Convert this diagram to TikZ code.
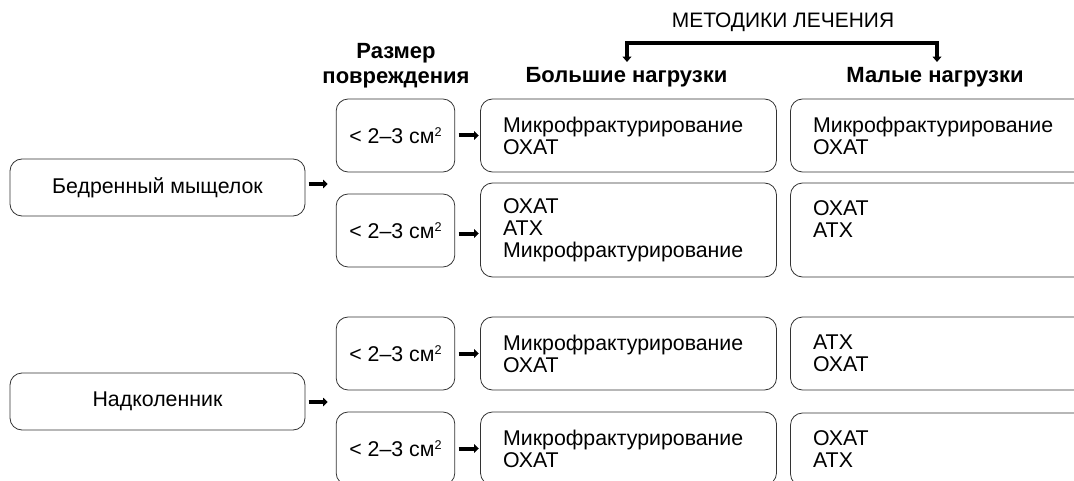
\documentclass[tikz,border=0pt]{standalone}
\usepackage{fontspec}
\setmainfont{Liberation Sans}
\usetikzlibrary{arrows.meta}

\newcommand{\sqsup}{\raisebox{5pt}{\fontsize{9.5}{9.5}\selectfont 2}}

\begin{document}
\begin{tikzpicture}[x=0.75pt,y=-0.75pt,
    box/.style={draw=black!80,line width=0.6pt,rounded corners=9pt,
        font=\fontsize{16}{16.5}\selectfont},
    sizebox/.style={box,minimum width=89pt,minimum height=54.75pt,inner sep=0pt},
    partbox/.style={box,minimum width=221.25pt,minimum height=42.75pt,inner sep=0pt},
    treatbox/.style={box,align=left,text width=188pt,inner xsep=17pt,inner ysep=0pt,
        minimum height=54.75pt},
    head/.style={font=\bfseries\fontsize{16.5}{19}\selectfont,align=center,inner sep=0pt},
    arr/.style={-{Triangle[length=3.5pt,width=6.5pt]},line width=3pt,shorten <=2.5pt,shorten >=1pt},
    brk/.style={{Triangle[length=4pt,width=6.5pt]}-{Triangle[length=4pt,width=6.5pt]},line width=2.6pt}]

    % 描画範囲
    \clip (0,0) rectangle (1074,481);

    % 見出し
    \node[font=\fontsize{15.7}{16.5}\selectfont] (methods) at (783,22) {МЕТОДИКИ ЛЕЧЕНИЯ};
    \node[head] (hsize) at (396,66) {Размер\\повреждения};
    \node[head] (hbig) at (626.5,77) {Большие нагрузки};
    \node[head] (hsmall) at (935,77) {Малые нагрузки};

    \coordinate (bA) at (627,62);
    \coordinate (bB) at (937,62);
    \coordinate (bTop) at (783,43);
    \draw[brk] (bA) |- (bTop) -| (bB);

    % 部位
    \node[partbox] (femur) at (157.5,187.5) {Бедренный мыщелок};
    \node[partbox] (patella) at (157.5,401.5) {Надколенник};

    % 損傷の大きさ
    \foreach \i/\y in {1/135.5,2/230.5,3/353.5,4/448.5}
        \node[sizebox] (S\i) at (395.5,\y) {< 2–3 см\sqsup};

    % 高負荷
    \node[treatbox] (L1) at (628.5,135.5) {Микрофрактурирование\\ОХАТ};
    \node[treatbox,minimum height=70.5pt] (L2) at (628.5,230) {ОХАТ\\АТХ\\Микрофрактурирование};
    \node[treatbox] (L3) at (628.5,353.5) {Микрофрактурирование\\ОХАТ};
    \node[treatbox] (L4) at (628.5,448.5) {Микрофрактурирование\\ОХАТ};

    % 低負荷
    \node[treatbox] (M1) at (938.5,135.5) {Микрофрактурирование\\ОХАТ};
    \node[treatbox,minimum height=70.5pt] (M2) at (938.5,230) {ОХАТ\\АТХ\\\mbox{}};
    \node[treatbox] (M3) at (938.5,353.5) {АТХ\\ОХАТ};
    \node[treatbox] (M4) at (938.5,449.5) {ОХАТ\\АТХ};

    % 矢印
    \coordinate (fA) at (329,184);
    \coordinate (pA) at (329,402);
    \draw[arr] (femur.east |- fA) -- (fA);
    \draw[arr] (patella.east |- pA) -- (pA);
    \draw[arr] (S1) -- (L1);
    \draw[arr] (S2.east) ++(0,3) -- (L2.west |- 0,233.5);
    \draw[arr] (S3) -- (L3);
    \draw[arr] (S4) -- (L4);

\end{tikzpicture}
\end{document}
